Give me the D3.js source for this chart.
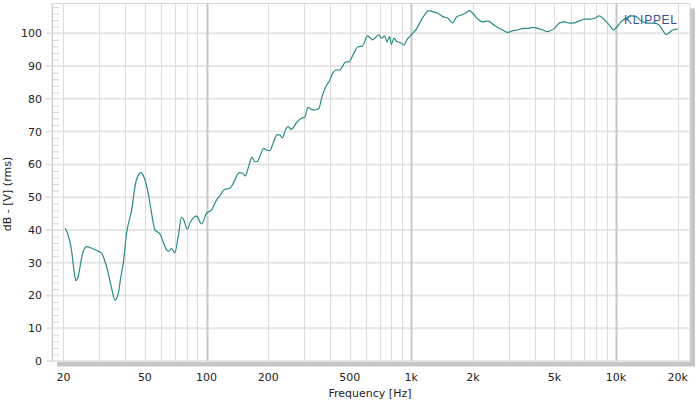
<!DOCTYPE html>
<html>
<head>
<meta charset="utf-8">
<script src="https://cdn.jsdelivr.net/npm/d3@7"></script>
<style>
  html, body { margin: 0; padding: 0; background: #fff; }
  svg { display: block; font-family: "DejaVu Sans", Verdana, sans-serif; }
</style>
</head>
<body>
<svg id="chart" width="698" height="401"></svg>
<script>
// ---- data ----
const freqHz = [20.4, 21.1, 21.9, 22.5, 23.0, 23.6, 24.6, 25.2, 26.0, 27.5, 29.1, 30.7, 32.5, 34.4, 35.7, 37.1, 38.0, 39.2,
  40.7, 43.1, 45.2, 46.5, 47.8, 49.4, 51.9, 53.9, 56.0, 59.2, 61.4, 63.8, 65.5, 67.5, 70.0, 72.7, 75.5, 77.5, 80.4, 83.6,
  89.4, 94.5, 100, 105.8, 111.9, 116.1, 122.8, 129.9, 137.4, 144.2, 149.8, 155.0, 159.6, 166.9, 172.0, 176.5, 182.0,
  190.4, 196.2, 203.6, 211.3, 221.0, 227.8, 234.8, 243.6, 250.0, 259.7, 274.8, 290.7, 301.7, 313.1, 325.3, 337.6,
  354.3, 363.9, 377.7, 399.6, 414.7, 430.7, 446.9, 460.6, 478.0, 496.1, 509.8, 529.0, 549.0, 576.8, 591.9, 610.2,
  626.1, 645.4, 669.8, 695.0, 714.0, 741.0, 760.3, 783.7, 798.8, 822.5, 854.5, 886.7, 920.2, 951.7, 988.8, 1026,
  1065, 1098, 1161, 1215, 1275, 1348, 1426, 1509, 1596, 1658, 1753, 1855, 1924, 1998, 2113, 2235, 2364, 2500, 2645,
  2797, 2959, 3130, 3311, 3502, 3705, 3918, 4145, 4385, 4638, 4727, 5000, 5289, 5594, 5918, 6260, 6622, 7004, 7409,
  7837, 8290, 8769, 9275, 9734, 10113, 10578, 11191, 11838, 12522, 13243, 14011, 14704, 15376, 16264, 16879, 17538,
  18197, 18880, 19750, 20000];
const levelDb = [40.5, 38.4, 33.9, 28.0, 24.5, 25.7, 31.8, 34.0, 34.9, 34.4, 33.7, 32.9, 28.8, 22.2, 18.6, 20.7, 25.0, 29.8,
  39.0, 46.1, 54.7, 56.8, 57.5, 56.2, 51.2, 45.1, 40.0, 38.8, 36.4, 33.9, 33.5, 34.4, 33.0, 37.9, 43.8, 43.0, 40.2, 42.5,
  44.2, 41.8, 45.1, 46.1, 49.1, 50.4, 52.4, 52.7, 55.2, 57.5, 57.3, 56.5, 58.8, 62.2, 60.8, 60.8, 62.3,
  64.9, 64.4, 64.2, 66.4, 69.0, 69.0, 68.1, 70.7, 71.5, 70.7, 72.7, 74.1, 74.4, 77.4, 76.8, 76.6,
  77.1, 80.0, 83.0, 85.7, 88.0, 88.8, 88.8, 89.8, 91.3, 91.3, 92.4, 94.4, 95.9, 96.1, 97.4, 99.2,
  98.8, 98.0, 98.8, 99.5, 98.5, 99.2, 97.4, 99.0, 96.6, 98.5, 97.4, 97.1, 96.4, 98.0, 99.2, 100.3,
  101.5, 103.1, 105.6, 106.9, 106.6, 106.1, 105.1, 104.6, 103.2, 104.9, 105.6, 106.3, 106.9, 106.1, 104.3, 103.5, 103.8, 102.8, 101.8,
  101.0, 100.3, 100.8, 101.0, 101.5, 101.5, 101.8, 101.5, 101.0, 100.5, 100.7, 101.5, 103.1, 103.5, 103.1, 103.2, 103.8, 104.3, 104.3,
  104.6, 105.3, 104.1, 102.5, 101.0, 102.0, 103.5, 104.6, 105.3, 105.1, 103.8, 103.2, 103.1, 103.1, 102.5, 101.0, 99.6,
  100.2, 101.0, 101.3, 101.3];
const xTickValues = [20, 50, 100, 200, 500, 1000, 2000, 5000, 10000, 20000];
const xTickLabels = ["20", "50", "100", "200", "500", "1k", "2k", "5k", "10k", "20k"];
const xGridValues = [20, 30, 40, 50, 60, 70, 80, 90, 100, 200, 300, 400, 500, 600, 700, 800, 900, 1000,
  2000, 3000, 4000, 5000, 6000, 7000, 8000, 9000, 10000, 20000];
const xMajorGrid = [100, 1000, 10000];
const yTickValues = [0, 10, 20, 30, 40, 50, 60, 70, 80, 90, 100];
const yMinorValues = d3.range(0, 110, 2);
const xTitle = "Frequency [Hz]";
const yTitle = "dB - [V] (rms)";
const brand = "KLIPPEL";

(function () {
// ---- scales ----
const svg = d3.select("#chart");
const x = d3.scaleLog().domain([20, 20000]).range([63.4, 677.7]);
const y = d3.scaleLinear().domain([0, 100]).range([361, 33.3]);
const pLeft = 52, pRight = 690, pTop = y(109.1), pBottom = 361.5;

// shadow + frame
svg.append("rect").attr("x", pLeft + 5).attr("y", pTop + 5)
  .attr("width", pRight - pLeft).attr("height", pBottom - pTop)
  .attr("fill", "#c6c6c6");
svg.append("rect").attr("x", pLeft).attr("y", pTop)
  .attr("width", pRight - pLeft).attr("height", pBottom - pTop)
  .attr("fill", "#fff").attr("stroke", "#d8d8d8").attr("stroke-width", 1);

// horizontal grid
svg.append("g").selectAll("line").data(yTickValues).join("line")
  .attr("x1", 46).attr("x2", pRight)
  .attr("y1", d => y(d)).attr("y2", d => y(d))
  .attr("stroke", "#e6e6e6").attr("stroke-width", 2);

// minor y ticks
svg.append("g").selectAll("line").data(yMinorValues.filter(d => d % 10 !== 0)).join("line")
  .attr("x1", pLeft).attr("x2", pLeft + 7)
  .attr("y1", d => y(d) + 0.5).attr("y2", d => y(d) + 0.5)
  .attr("stroke", "#d6d6d6").attr("stroke-width", 1);

// vertical grid
svg.append("g").selectAll("line").data(xGridValues).join("line")
  .attr("x1", d => Math.round(x(d)) + 0.5).attr("x2", d => Math.round(x(d)) + 0.5)
  .attr("y1", pTop).attr("y2", pBottom)
  .attr("stroke", d => xMajorGrid.includes(d) ? "#c8c8c8" : "#dcdcdc")
  .attr("stroke-width", d => xMajorGrid.includes(d) ? 2 : 1);

// left border line
svg.append("line").attr("x1", pLeft + 0.5).attr("x2", pLeft + 0.5).attr("y1", pTop).attr("y2", pBottom)
  .attr("stroke", "#cfcfcf");

// y tick labels
svg.append("g").selectAll("text").data(yTickValues).join("text")
  .attr("x", 42).attr("y", d => y(d) + 4)
  .attr("text-anchor", "end").attr("font-size", 11).attr("fill", "#222")
  .text(d => d);

// x tick labels
svg.append("g").selectAll("text").data(xTickValues).join("text")
  .attr("x", d => x(d)).attr("y", 381)
  .attr("text-anchor", "middle").attr("font-size", 11).attr("fill", "#222")
  .text((d, i) => xTickLabels[i]);

// axis titles
svg.append("text").attr("x", 370).attr("y", 397).attr("text-anchor", "middle")
  .attr("font-size", 11).attr("fill", "#222").text(xTitle);
svg.append("text").attr("transform", "translate(11,194) rotate(-90)")
  .attr("text-anchor", "middle").attr("font-size", 11).attr("fill", "#222").text(yTitle);

// brand
svg.append("text").attr("x", 677).attr("y", 24).attr("text-anchor", "end")
  .attr("font-size", 12).attr("fill", "#3f4f8c").attr("font-family", "Liberation Sans, Arial, sans-serif")
  .attr("textLength", 53).text(brand);

// curve
const pts = freqHz.map((f, i) => [f, levelDb[i]]);
const line = d3.line().x(d => x(d[0])).y(d => y(d[1])).curve(d3.curveMonotoneX);
svg.append("path").datum(pts).attr("d", line)
  .attr("fill", "none").attr("stroke", "#2b8a8a").attr("stroke-width", 1.2);
})();
</script>
</body>
</html>
